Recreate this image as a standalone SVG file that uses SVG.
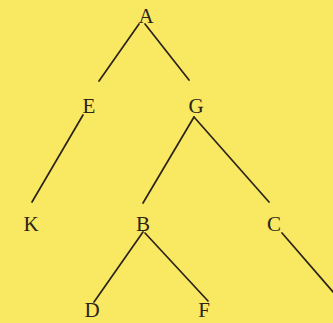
<svg xmlns="http://www.w3.org/2000/svg" width="333" height="323" viewBox="0 0 333 323">
<style>
.lbl{font-family:"Liberation Serif","DejaVu Serif",serif;font-size:21px;fill:#2b2418;text-anchor:middle}
.edge{stroke:#2b2418;stroke-width:1.7;fill:none;stroke-linecap:round}
</style>
<rect width="333" height="323" fill="#f9e862"/>
<g id="connectors">
<line class="edge" x1="139" y1="24" x2="99" y2="81"/>
<line class="edge" x1="145" y1="24" x2="189" y2="80"/>
<line class="edge" x1="83" y1="115" x2="32" y2="202"/>
<line class="edge" x1="194" y1="117" x2="143" y2="203"/>
<line class="edge" x1="194" y1="117" x2="269" y2="202"/>
<line class="edge" x1="143" y1="232" x2="94" y2="302"/>
<line class="edge" x1="145" y1="233" x2="208" y2="301"/>
<line class="edge" x1="282" y1="233" x2="334" y2="293"/>
</g>
<g id="A"><text class="lbl" x="146" y="23">A</text></g>
<g id="E"><text class="lbl" x="89" y="113">E</text></g>
<g id="G"><text class="lbl" x="196" y="113">G</text></g>
<g id="K"><text class="lbl" x="31" y="231">K</text></g>
<g id="B"><text class="lbl" x="143" y="231">B</text></g>
<g id="C"><text class="lbl" x="274" y="231">C</text></g>
<g id="D"><text class="lbl" x="92" y="317">D</text></g>
<g id="F"><text class="lbl" x="204" y="317">F</text></g>
</svg>
